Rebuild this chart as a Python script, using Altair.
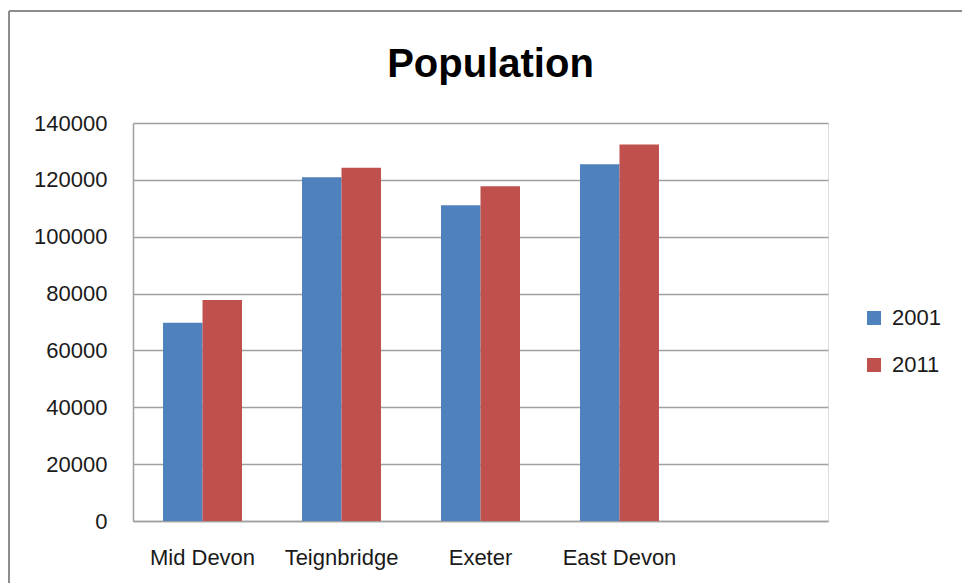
import altair as alt
import pandas as pd

# Data
categories = ["Mid Devon", "Teignbridge", "Exeter", "East Devon"]
axis_slots = ["Mid Devon", "Teignbridge", "Exeter", "East Devon", " "]
years = ["2001", "2011"]
pop_2001 = [69774, 120958, 111076, 125520]
pop_2011 = [77750, 124220, 117773, 132457]
y_ticks = [0, 20000, 40000, 60000, 80000, 100000, 120000, 140000]

rows = []
for c, a, b in zip(categories, pop_2001, pop_2011):
    rows.append({"area": c, "year": "2001", "population": a})
    rows.append({"area": c, "year": "2011", "population": b})
df = pd.DataFrame(rows)

FONT = "Liberation Sans"
GRID = "#A0A0A0"

bars = alt.Chart(df).mark_bar().encode(
    x=alt.X(
        "area:N",
        scale=alt.Scale(domain=axis_slots, paddingInner=0.4317, paddingOuter=0.216),
        sort=axis_slots,
        axis=alt.Axis(
            title=None, labelAngle=0, ticks=False, grid=False,
            domainColor=GRID, domainWidth=1.5,
            labelFont=FONT, labelFontSize=22, labelColor="#1a1a1a",
            labelPadding=26,
        ),
    ),
    xOffset=alt.XOffset("year:N", scale=alt.Scale(domain=years, paddingInner=0, paddingOuter=0)),
    y=alt.Y(
        "population:Q",
        scale=alt.Scale(domain=[0, 140000], nice=False),
        axis=alt.Axis(
            title=None, values=y_ticks, format="d", ticks=False,
            grid=True, gridColor=GRID, gridWidth=1.5,
            domainColor=GRID, domainWidth=1.5,
            labelFont=FONT, labelFontSize=22, labelColor="#1a1a1a",
            labelPadding=26,
        ),
    ),
    color=alt.Color(
        "year:N",
        scale=alt.Scale(domain=years, range=["#4F81BD", "#C0504D"]),
        legend=alt.Legend(
            orient="none", legendX=730, legendY=184, title=None,
            symbolType="square", symbolSize=196, symbolStrokeWidth=0,
            labelFont=FONT, labelFontSize=22, labelColor="#1a1a1a",
            rowPadding=25, labelOffset=7,
        ),
    ),
)

frame_data = alt.Data(values=[{"k": 1}])
left_border = alt.Chart(frame_data).mark_rule(color="#8C8C8C", strokeWidth=2).encode(
    x=alt.value(-124), y=alt.value(-112), y2=alt.value(700)
)
top_border = alt.Chart(frame_data).mark_rule(color="#8C8C8C", strokeWidth=2).encode(
    x=alt.value(-124), x2=alt.value(1000), y=alt.value(-112)
)

chart = alt.layer(bars, left_border, top_border).properties(
    width=695,
    height=398,
    title=alt.TitleParams(
        "Population", font=FONT, fontSize=40, fontWeight="bold",
        color="black", anchor="middle", dx=10, offset=-75,
    ),
    autosize=alt.AutoSizeParams(type="none"),
    padding={"left": 133, "top": 123, "right": 134, "bottom": 62},
).configure_view(stroke=None).configure(background="white")

chart.save("out.html", embed_options={"renderer": "svg", "actions": False})
